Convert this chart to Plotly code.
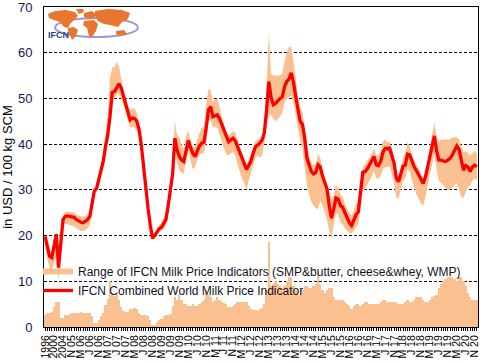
import plotly.graph_objects as go

# ---------------- data ----------------
years = ["1996", "1997", "1998", "1999", "2000", "2001", "2002", "2003", "2004"]
month_names = ["Jan", "Feb", "Mar", "Apr", "May", "Jun", "Jul", "Aug", "Sep", "Oct", "Nov", "Dec"]
month_letters = ["J", "F", "M", "A", "M", "J", "J", "A", "S", "O", "N", "D"]
first_month = (2005, 8)   # monthly data Aug 2005 .. Dec 2020
last_month = (2020, 12)

combined = [
    19.8, 17.5, 15.5, 15.2, 17.8, 20.3, 13.0, 19.0, 23.5,
    24.2, 24.3, 24.2, 24.1, 24.0, 23.5, 23.1, 22.9, 22.8, 23.1, 23.5, 24.2,
    27.5, 29.8, 30.3, 32.5, 34.2, 36.3, 39.5, 42.0, 46.0, 51.3,
    51.5, 52.2, 53.2, 52.3, 50.5, 48.8, 47.2, 45.3, 45.7, 45.6,
    45.0, 43.2, 39.8, 35.0, 30.0, 26.0, 22.3, 19.4, 20.0, 20.8,
    21.5, 21.8, 22.5, 23.5, 26.5, 30.0, 33.5, 41.3, 38.7, 37.3,
    36.5, 36.2, 39.0, 40.8, 39.3, 38.0, 37.3, 38.5, 39.6, 40.2,
    40.4, 43.5, 47.5, 48.2, 46.0, 46.2, 46.4, 45.5, 44.3, 43.0,
    41.6, 40.5, 40.9, 41.3, 40.7, 39.5, 38.1, 36.9, 35.8, 34.5,
    35.3, 36.3, 38.0, 39.4, 39.8, 40.2, 40.9, 42.5, 47.5, 53.7,
    50.2, 48.6, 48.9, 49.6, 50.0, 50.3, 52.5, 53.7, 54.2, 55.6,
    53.6, 50.5, 47.2, 45.0, 44.3, 41.5, 37.0, 35.2, 34.0, 33.5,
    33.8, 35.5, 35.0, 33.0, 31.3, 30.2, 26.5, 23.8, 25.8, 28.2,
    28.0, 26.6, 26.2, 25.0, 23.9, 22.8, 22.2, 23.4, 24.6, 25.2,
    29.0, 33.8, 34.0, 34.6, 35.5, 36.3, 37.3, 35.5, 35.3, 36.2,
    38.2, 39.1, 39.0, 39.1, 37.5, 35.8, 32.5, 31.8, 33.5, 35.2,
    35.4, 37.8, 37.6, 36.2, 35.0, 34.2, 33.2, 32.4, 31.4, 32.8,
    35.0, 37.5, 39.8, 41.8, 38.5, 36.5, 36.5, 36.3, 36.2, 36.5,
    36.9, 37.6, 38.5, 39.6, 38.9, 36.5, 34.3, 35.3, 35.0, 34.0,
    35.0, 35.4, 35.1,
]

range_min = [
    17.5, 14.8, 12.8, 12.3, 13.9, 15.5, 10.0, 17.5, 22.5,
    22.6, 22.5, 22.3, 22.2, 22.0, 21.6, 21.3, 21.0, 21.0, 21.2, 21.6, 22.4,
    26.0, 29.2, 29.8, 31.6, 33.0, 35.0, 37.5, 40.5, 44.5, 49.8,
    50.0, 50.8, 51.0, 50.0, 48.5, 47.0, 45.2, 43.5, 43.8, 43.6,
    42.8, 41.5, 38.3, 33.6, 28.7, 24.8, 21.5, 19.0, 19.7, 20.2,
    20.8, 21.0, 21.5, 22.3, 25.2, 28.6, 31.5, 38.5, 36.0, 34.3,
    33.8, 33.5, 36.8, 38.5, 36.5, 34.5, 35.0, 36.5, 37.5, 38.0,
    38.0, 40.5, 45.0, 45.3, 43.8, 43.8, 43.5, 42.0, 40.5, 39.0,
    37.8, 37.5, 38.0, 38.3, 37.5, 35.5, 34.0, 32.5, 31.5, 30.0,
    32.0, 33.5, 35.5, 37.0, 37.5, 37.0, 37.5, 40.0, 44.5, 46.0,
    46.5, 45.5, 45.0, 45.5, 46.0, 47.0, 49.0, 50.0, 50.3, 50.5,
    49.0, 46.5, 43.5, 41.0, 39.0, 35.0, 31.0, 29.0, 27.5, 26.5,
    26.0, 25.8, 27.5, 26.5, 25.0, 23.5, 21.0, 19.4, 22.5, 25.0,
    24.5, 23.0, 22.5, 21.5, 21.0, 20.5, 20.5, 21.0, 22.0, 22.5,
    26.5, 30.0, 30.0, 31.0, 32.0, 33.0, 34.0, 32.5, 32.5, 33.0,
    34.5, 35.0, 35.0, 35.0, 33.5, 31.5, 28.2, 28.2, 30.0, 32.0,
    32.5, 34.5, 34.0, 32.0, 30.5, 29.0, 28.0, 27.0, 26.5, 28.5,
    31.0, 33.5, 35.5, 38.0, 34.5, 32.0, 31.5, 31.0, 30.5, 30.0,
    30.0, 30.5, 31.0, 31.5, 30.0, 28.5, 28.2, 29.5, 30.5, 31.0,
    32.0, 32.5, 32.0,
]

range_width = [
    2.7, 3.1, 3.1, 3.3, 4.4, 5.5, 5.5, 2.0, 1.9,
    2.6, 2.7, 2.8, 3.0, 3.0, 3.0, 3.1, 3.2, 3.1, 3.0, 3.0, 3.0,
    2.3, 0.9, 0.8, 1.5, 2.3, 3.0, 4.8, 6.2, 10.0, 7.0,
    6.8, 7.2, 6.0, 4.4, 3.5, 3.2, 3.2, 4.0, 4.0, 4.2,
    4.0, 3.0, 2.6, 2.6, 2.6, 2.4, 1.5, 0.5, 0.5, 1.2,
    1.5, 1.8, 2.4, 2.6, 2.6, 2.8, 4.5, 6.5, 6.0, 7.3,
    6.0, 5.0, 5.0, 4.5, 4.5, 5.0, 4.5, 4.5, 5.0, 5.5,
    6.0, 8.0, 7.0, 6.5, 5.5, 6.0, 6.5, 6.0, 5.5, 5.3,
    5.0, 4.4, 4.4, 4.5, 5.0, 5.5, 5.5, 5.5, 5.5, 5.5,
    4.5, 4.0, 3.8, 3.7, 3.5, 4.0, 4.2, 5.0, 8.0, 18.5,
    9.0, 9.5, 10.0, 9.5, 9.0, 8.5, 9.0, 10.0, 11.0, 10.8,
    9.0, 8.0, 7.0, 7.0, 8.0, 9.0, 9.0, 8.5, 8.5, 9.0,
    9.5, 12.0, 9.5, 8.0, 7.5, 8.0, 8.5, 8.5, 6.5, 6.0,
    6.0, 6.0, 6.0, 5.5, 5.0, 4.5, 4.0, 4.5, 5.0, 5.0,
    4.5, 5.0, 5.5, 5.5, 5.0, 5.0, 5.0, 5.0, 5.0, 5.5,
    6.0, 6.0, 5.5, 5.5, 5.5, 5.5, 5.5, 5.0, 5.0, 5.0,
    5.5, 6.0, 5.5, 5.5, 6.0, 6.5, 6.5, 6.5, 6.0, 5.5,
    5.5, 6.0, 6.5, 6.8, 7.0, 8.5, 9.5, 10.0, 10.5, 11.0,
    11.0, 11.0, 10.5, 10.0, 11.0, 11.0, 10.0, 9.0, 7.5, 6.5,
    6.0, 6.0, 6.0,
]

# ---------------- categories & tick labels ----------------
categories = list(years)
tick_labels = list(years)
y, m = first_month
while (y, m) <= last_month:
    categories.append(f"{month_names[m - 1]} {y}")
    tick_labels.append(f"{month_letters[m - 1]} {y % 100:02d}")
    m += 1
    if m > 12:
        m, y = 1, y + 1
ticktext = [lab if i % 4 == 0 else "" for i, lab in enumerate(tick_labels)]

PEACH = "#FAC090"
FONT = "Liberation Sans, Arial, sans-serif"

fig = go.Figure()
fig.add_trace(go.Bar(x=categories, y=range_width, marker=dict(color=PEACH, line=dict(width=0)),
                     showlegend=False, hoverinfo="skip"))
fig.add_trace(go.Scatter(x=categories, y=range_min, stackgroup="band", mode="none",
                         fillcolor="rgba(0,0,0,0)", showlegend=False, hoverinfo="skip"))
fig.add_trace(go.Scatter(x=categories, y=range_width, stackgroup="band", mode="none",
                         fillcolor=PEACH,
                         name="Range of IFCN Milk Price Indicators (SMP&butter, cheese&whey, WMP)"))
fig.add_trace(go.Scatter(x=categories, y=combined, mode="lines",
                         line=dict(color="#FF0000", width=3.3),
                         name="IFCN Combined World Milk Price Indicator"))

# ---- decorative logo (IFCN world map) in pixel -> paper coords ----
L, R, T, B = 44, 478, 7, 327
def P(px, py):
    return (px - L) / (R - L), (B - py) / (B - T)

def path(pts):
    s = ""
    for k, (px, py) in enumerate(pts):
        fx, fy = P(px, py)
        s += ("M" if k == 0 else "L") + f"{fx:.4f},{fy:.4f} "
    return s + "Z"

continents = [
    [(48, 14), (55, 11), (66, 10), (75, 12), (78, 16), (74, 20), (70, 24), (68, 28), (64, 27), (60, 22), (54, 20), (49, 18)],
    [(76, 9), (83, 9), (84, 12), (79, 14)],
    [(68, 28), (74, 27), (78, 30), (76, 36), (72, 40), (70, 35), (68, 31)],
    [(84, 13), (92, 11), (96, 14), (94, 18), (88, 19), (84, 17)],
    [(84, 21), (94, 20), (98, 24), (96, 31), (92, 37), (89, 36), (87, 28), (83, 25)],
    [(95, 11), (108, 9), (122, 10), (130, 13), (128, 19), (122, 22), (118, 27), (110, 25), (104, 24), (98, 21), (95, 16)],
    [(116, 31), (124, 30), (127, 34), (120, 36), (116, 34)],
]
shapes = []
ex0, ey0 = P(55, 37)
ex1, ey1 = P(138, 18)
shapes.append(dict(type="circle", xref="paper", yref="paper", x0=ex0, x1=ex1, y0=ey0, y1=ey1,
                   line=dict(color="#9A9AD0", width=2), layer="above"))
for c in continents:
    shapes.append(dict(type="path", xref="paper", yref="paper", path=path(c),
                       fillcolor="#E8762D", line=dict(width=0), layer="above"))
# white legend box hiding part of the gridline (between grid and traces)
wx0, wy0 = P(44, 286)
wx1, wy1 = P(262, 276)
shapes.append(dict(type="rect", xref="paper", yref="paper", x0=wx0, x1=wx1, y0=wy0, y1=wy1,
                   fillcolor="white", line=dict(width=0), layer="between"))

lx, ly = P(46, 42)
fig.add_annotation(x=lx, y=ly, xref="paper", yref="paper", text="<b>IFCN</b>", showarrow=False,
                   xanchor="left", yanchor="bottom", font=dict(family=FONT, size=9, color="#2B3F80"))

leg_x, leg_y = P(38, 257)
fig.update_layout(
    width=486, height=363,
    margin=dict(l=L, r=486 - R, t=T, b=363 - B, autoexpand=False),
    paper_bgcolor="white", plot_bgcolor="white",
    bargap=0, showlegend=True,
    font=dict(family=FONT, size=12, color="#000000"),
    shapes=shapes,
    legend=dict(x=leg_x, y=leg_y, xanchor="left", yanchor="top", bgcolor="rgba(0,0,0,0)",
                font=dict(family=FONT, size=12, color="#111122"), itemwidth=30,
                tracegroupgap=0, traceorder="normal"),
    xaxis=dict(type="category", range=[-0.5, len(categories) - 0.5], automargin=False,
               tickmode="array", tickvals=categories, ticktext=ticktext,
               tickangle=-90, tickfont=dict(family=FONT, size=10.5, color="#000000"),
               ticks="outside", ticklen=3, tickwidth=1, tickcolor="black",
               showline=True, linecolor="black", linewidth=1, mirror=True,
               showgrid=False, zeroline=False, ticklabeloverflow="allow"),
    yaxis=dict(range=[0, 70], dtick=10, tick0=0, automargin=False,
               tickfont=dict(family=FONT, size=13, color="#14145A"),
               showline=True, linecolor="black", linewidth=1, mirror=True,
               showgrid=True, gridcolor="black", gridwidth=1, griddash="3px,2px",
               zeroline=False, ticks="", ticklabelstandoff=8, ticklabeloverflow="allow",
               title=dict(text="in USD / 100 kg SCM", font=dict(family=FONT, size=13, color="#000000"),
                          standoff=4)),
)

fig.write_html("out.html", config={"displayModeBar": False},
               post_script="document.body.style.margin='0';document.body.style.padding='0';")
